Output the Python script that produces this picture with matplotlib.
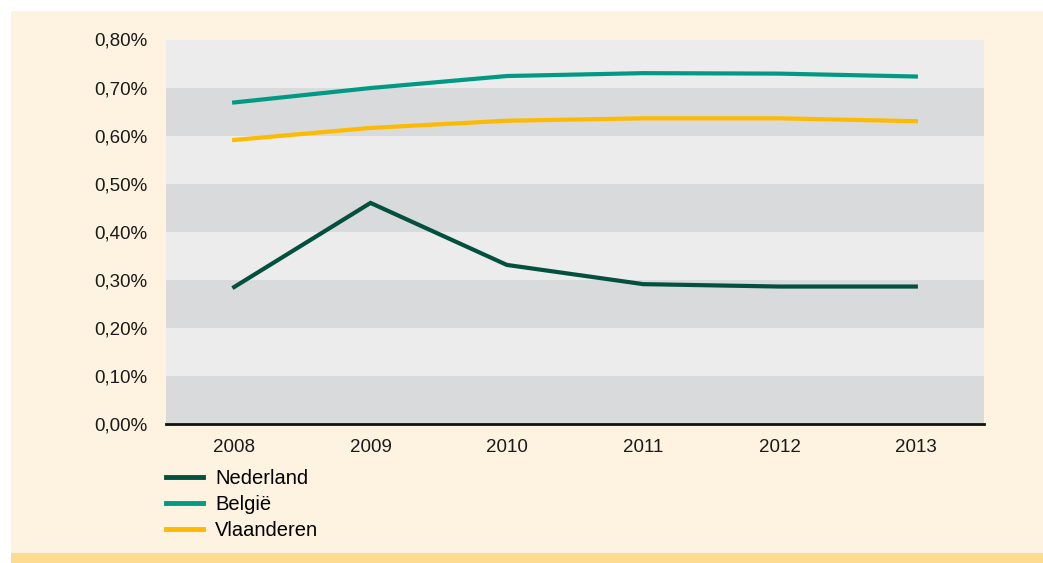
import matplotlib
matplotlib.use("Agg")
import matplotlib.pyplot as plt
from matplotlib.patches import Rectangle
from matplotlib.ticker import FuncFormatter

# Data
years = ["2008", "2009", "2010", "2011", "2012", "2013"]
nederland = [0.285, 0.460, 0.331, 0.291, 0.286, 0.286]
belgie = [0.669, 0.699, 0.724, 0.730, 0.729, 0.723]
vlaanderen = [0.591, 0.616, 0.631, 0.636, 0.636, 0.630]

series_names = ["Nederland", "België", "Vlaanderen"]
series_colors = ["#03503F", "#009A84", "#FDBA00"]

plt.rcParams["font.family"] = ["Liberation Sans", "DejaVu Sans"]

W, H = 1043, 563
FS = 13.5
fig = plt.figure(figsize=(W / 100, H / 100), dpi=100)
fig.patch.set_facecolor("white")

# Cream panel and bottom stripe
fig.patches.append(Rectangle((11 / W, (H - 553) / H), (W - 11) / W, (553 - 11) / H,
                             transform=fig.transFigure, facecolor="#FEF3E0",
                             edgecolor="none", zorder=-2))
fig.patches.append(Rectangle((11 / W, 0), (W - 11) / W, (563 - 553) / H,
                             transform=fig.transFigure, facecolor="#FDDB90",
                             edgecolor="none", zorder=-2))

left, right, top, bottom = 166, 984, 39.5, 424
ax = fig.add_axes([left / W, (H - bottom) / H, (right - left) / W, (bottom - top) / H])
ax.set_facecolor("#EBECEB")

x = list(range(len(years)))
ax.set_xlim(-0.5, len(years) - 0.5)
ax.set_ylim(0, 0.8)

# Alternating horizontal bands
for i in range(8):
    if i % 2 == 0:
        ax.axhspan(i * 0.1, (i + 1) * 0.1, facecolor="#D9DADB", edgecolor="none", zorder=0)

for vals, name, col in zip([nederland, belgie, vlaanderen], series_names, series_colors):
    ax.plot(x, vals, color=col, lw=3.0, label=name, zorder=3, solid_joinstyle="miter")

ax.set_xticks(x)
ax.set_xticklabels(years)
ax.set_yticks([i * 0.1 for i in range(9)])
ax.yaxis.set_major_formatter(FuncFormatter(lambda v, p: f"{v:.2f}%".replace(".", ",")))
ax.tick_params(axis="both", length=0, labelsize=FS, colors="#1a1a1a")
ax.tick_params(axis="y", pad=13.5)
ax.tick_params(axis="x", pad=11)

for s in ["top", "right", "left"]:
    ax.spines[s].set_visible(False)
ax.spines["bottom"].set_color("#111111")
ax.spines["bottom"].set_linewidth(2.0)

leg = fig.legend(loc="upper left", bbox_to_anchor=(166 / W, (H - 469) / H),
                 frameon=False, fontsize=14.5, handlelength=1.85, handletextpad=0.6,
                 labelspacing=0.34, borderaxespad=0, borderpad=0)
for line in leg.get_lines():
    line.set_linewidth(3.5)

fig.savefig("out.png", dpi=100, facecolor=fig.get_facecolor())
